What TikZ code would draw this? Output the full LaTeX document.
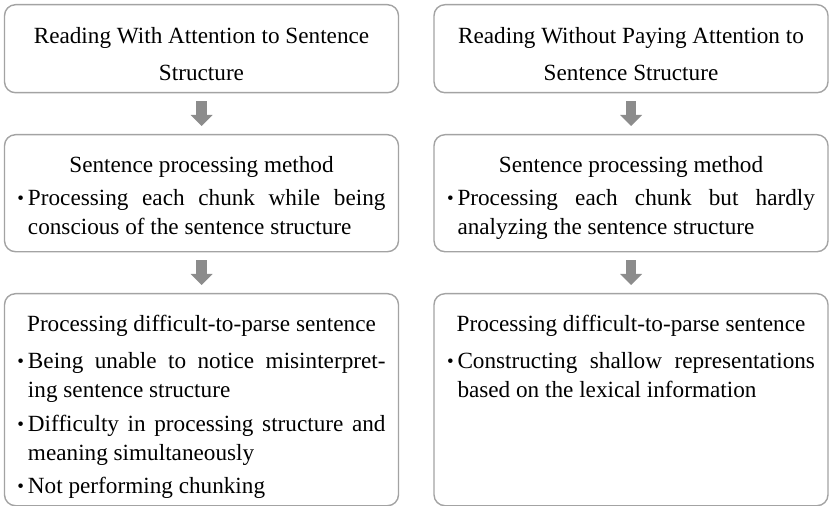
\documentclass[tikz,border=0pt]{standalone}
\usepackage{fontspec}
\setmainfont{Liberation Serif}
\usetikzlibrary{arrows.meta}
\usepackage{xcolor}
\definecolor{boxgray}{HTML}{A3A3A3}
\definecolor{arrowgray}{HTML}{8C8C8C}

\newcommand{\boxtext}[3]{\parbox[t][#1][t]{368bp}{\setlength{\parskip}{4.5bp}\vspace*{#2}#3}}
\newcommand{\heading}[1]{{\centering #1\par}}
\newcommand{\bitem}[1]{\par\hangindent=10.5bp\hangafter=1\noindent
  \makebox[10.5bp][l]{\raisebox{1bp}{\fontsize{19bp}{19bp}\selectfont\textbullet}}#1\par}

\begin{document}
\begin{tikzpicture}[x=1bp,y=1bp,
  stagebox/.style={draw=boxgray,line width=1.4bp,rounded corners=11bp,
    inner xsep=13bp,inner ysep=0pt,anchor=north,
    font=\fontsize{23.2bp}{29bp}\selectfont},
  flowarrow/.style={draw=arrowgray,line width=10.5bp,
    -{Triangle[width=22bp,length=11bp,line width=0pt]},
    shorten <=8bp,shorten >=8bp}]

\useasboundingbox (0,0) rectangle (832,-506);

\def\colA{201.5}
\def\colB{631}

\node[stagebox] (withTop) at (\colA,-4) {\boxtext{88bp}{18bp}{%
  \fontsize{23.2bp}{37bp}\selectfont
  \heading{Reading With Attention to Sentence\\Structure}}};
\node[stagebox] (withMethod) at (\colA,-134) {\boxtext{117bp}{17bp}{%
  \heading{Sentence processing method}
  \bitem{Processing each chunk while being\linebreak conscious of the sentence structure}}};
\node[stagebox] (withParse) at (\colA,-293) {\boxtext{212bp}{17bp}{%
  \heading{Processing difficult-to-parse sentence}\vspace{3.5bp}
  \bitem{Being unable to notice misinterpret-\linebreak ing sentence structure}
  \bitem{Difficulty in processing structure and\linebreak meaning simultaneously}
  \bitem{Not performing chunking}}};

\node[stagebox] (withoutTop) at (\colB,-4) {\boxtext{88bp}{18bp}{%
  \fontsize{23.2bp}{37bp}\selectfont
  \heading{Reading Without Paying Attention to\\Sentence Structure}}};
\node[stagebox] (withoutMethod) at (\colB,-134) {\boxtext{117bp}{17bp}{%
  \heading{Sentence processing method}
  \bitem{Processing each chunk but hardly\linebreak analyzing the sentence structure}}};
\node[stagebox] (withoutParse) at (\colB,-293) {\boxtext{212bp}{17bp}{%
  \heading{Processing difficult-to-parse sentence}\vspace{3.5bp}
  \bitem{Constructing shallow representations\linebreak based on the lexical information}}};

\draw[flowarrow] (withTop) -- (withMethod);
\draw[flowarrow] (withMethod) -- (withParse);
\draw[flowarrow] (withoutTop) -- (withoutMethod);
\draw[flowarrow] (withoutMethod) -- (withoutParse);

\end{tikzpicture}
\end{document}
